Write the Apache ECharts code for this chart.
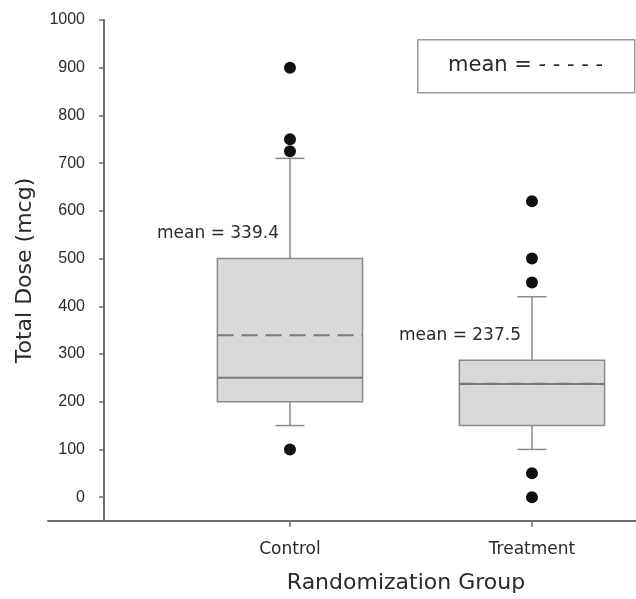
<!DOCTYPE html>
<html>
<head>
<meta charset="utf-8">
<title>Total Dose by Randomization Group</title>
<script src="https://cdn.jsdelivr.net/npm/echarts@6/dist/echarts.min.js"></script>
<style>
  html, body { margin: 0; padding: 0; background: #fff; }
  #chart { width: 636px; height: 599px; }
</style>
</head>
<body>
<div id="chart"></div>
<script>
// Group names along the x axis
const categories = ['Control', 'Treatment'];

// Box-and-whisker summary per group (mcg)
const whiskerLow = [150, 100];
const quartile1 = [200, 150];
const medians = [250, 237];
const quartile3 = [500, 287];
const whiskerHigh = [710, 420];
const means = [339.4, 237.5];

// Points outside the whiskers
const controlOutliers = [900, 750, 725, 100];
const treatmentOutliers = [620, 500, 450, 50, 0];

// Y-axis tick values
const yTicks = [0, 100, 200, 300, 400, 500, 600, 700, 800, 900, 1000];

const groupPos = categories.map((c, i) => i + 1);

const boxData = categories.map((c, i) => [
  groupPos[i], whiskerLow[i], quartile1[i], medians[i],
  quartile3[i], whiskerHigh[i], means[i]
]);

const outlierData = []
  .concat(controlOutliers.map(v => [groupPos[0], v]))
  .concat(treatmentOutliers.map(v => [groupPos[1], v]));

const GREY = '#8a8a8a';
const TEXT = '#2a2a2a';
const WIDE = 'DejaVu Sans';
const NARROW = 'Liberation Sans';

function renderBox(params, api) {
  const x = api.value(0);
  const unit = api.size([1, 0])[0];
  const half = unit * 0.3;
  const cap = unit * 0.06;
  const at = k => api.coord([x, api.value(k)]);
  const low = at(1), q1 = at(2), med = at(3), q3 = at(4), high = at(5), mean = at(6);
  const cx = low[0];
  const wStyle = { stroke: GREY, lineWidth: 1.5 };
  return {
    type: 'group',
    children: [
      { type: 'line', shape: { x1: cx, y1: q3[1], x2: cx, y2: high[1] }, style: wStyle },
      { type: 'line', shape: { x1: cx - cap, y1: high[1], x2: cx + cap, y2: high[1] }, style: wStyle },
      { type: 'line', shape: { x1: cx, y1: q1[1], x2: cx, y2: low[1] }, style: wStyle },
      { type: 'line', shape: { x1: cx - cap, y1: low[1], x2: cx + cap, y2: low[1] }, style: wStyle },
      {
        type: 'rect',
        shape: { x: cx - half, y: q3[1], width: half * 2, height: q1[1] - q3[1] },
        style: { fill: '#d9d9d9', stroke: GREY, lineWidth: 1.5 }
      },
      {
        type: 'line',
        shape: { x1: cx - half, y1: med[1], x2: cx + half, y2: med[1] },
        style: { stroke: '#7a7a7a', lineWidth: 2 }
      },
      {
        type: 'line',
        shape: { x1: cx - half, y1: mean[1], x2: cx + half, y2: mean[1] },
        style: { stroke: '#7a7a7a', lineWidth: 2, lineDash: [16, 8] }
      },
      {
        type: 'text',
        x: cx - 11,
        y: q3[1] - 25,
        style: {
          text: 'mean = ' + api.value(6).toFixed(1),
          fill: TEXT,
          fontFamily: WIDE,
          fontSize: 17,
          align: 'right',
          verticalAlign: 'middle'
        }
      }
    ]
  };
}

const chart = echarts.init(document.getElementById('chart'), null, { renderer: 'canvas' });

chart.setOption({
  animation: false,
  backgroundColor: '#fff',
  grid: { left: 48, right: 0, top: 20, bottom: 75 },
  xAxis: {
    type: 'value',
    min: 0,
    max: 2.43,
    name: 'Randomization Group',
    nameLocation: 'middle',
    nameGap: 51,
    nameTextStyle: { fontFamily: WIDE, fontSize: 22, color: TEXT, padding: [0, 0, 0, 128] },
    axisLine: { show: true, onZero: false, lineStyle: { color: '#6e6e6e', width: 2 } },
    axisTick: { show: true, length: 6, customValues: groupPos, lineStyle: { color: '#6e6e6e', width: 1.5 } },
    axisLabel: {
      customValues: groupPos,
      margin: 20,
      fontFamily: WIDE,
      fontSize: 17,
      color: TEXT,
      formatter: v => categories[Math.round(v) - 1] || ''
    },
    splitLine: { show: false }
  },
  yAxis: {
    type: 'value',
    min: -50,
    max: 1000,
    offset: -56,
    name: 'Total Dose (mcg)',
    nameLocation: 'middle',
    nameGap: 68,
    nameTextStyle: { fontFamily: WIDE, fontSize: 22, color: TEXT },
    axisLine: { show: true, onZero: false, lineStyle: { color: '#6e6e6e', width: 2 } },
    axisTick: { show: true, length: 5, customValues: yTicks, lineStyle: { color: '#6e6e6e', width: 1.5 } },
    axisLabel: {
      customValues: yTicks,
      margin: 19,
      fontFamily: NARROW,
      fontSize: 16,
      color: TEXT,
      formatter: v => String(v)
    },
    splitLine: { show: false }
  },
  graphic: [
    {
      type: 'rect',
      left: 417,
      top: 39,
      shape: { width: 217, height: 53 },
      style: { fill: '#fff', stroke: '#9a9a9a', lineWidth: 1.5 }
    },
    {
      type: 'text',
      x: 448,
      y: 66,
      style: {
        text: 'mean = - - - - -',
        fill: TEXT,
        fontFamily: WIDE,
        fontSize: 21,
        verticalAlign: 'middle'
      }
    }
  ],
  series: [
    {
      name: 'box',
      type: 'custom',
      renderItem: renderBox,
      data: boxData,
      encode: { x: 0, y: [1, 2, 3, 4, 5, 6] },
      z: 2
    },
    {
      name: 'outliers',
      type: 'scatter',
      data: outlierData,
      symbol: 'circle',
      symbolSize: 12,
      itemStyle: { color: '#111', opacity: 1 },
      z: 3
    }
  ]
});
</script>
</body>
</html>
